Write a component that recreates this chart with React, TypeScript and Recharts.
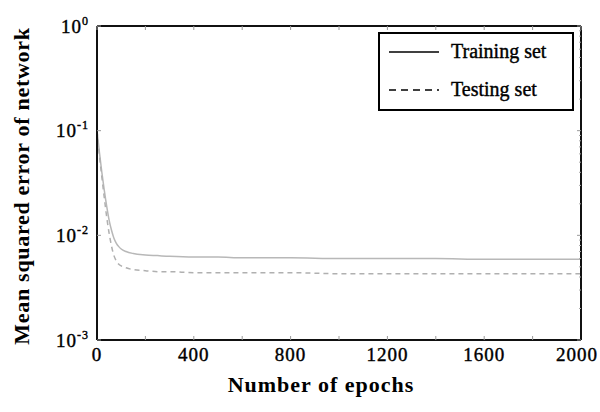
import React from 'react';
import { LineChart, Line, XAxis, YAxis, Legend } from 'recharts';

const epochs = [0, 10, 20, 30, 40, 50, 60, 70, 80, 90, 100, 120, 150, 200, 250, 300, 400, 500, 600, 800, 1000, 1200, 1400, 1600, 1800, 2000];
const training = [0.1, 0.062, 0.04, 0.027, 0.019, 0.014, 0.0112, 0.0094, 0.0084, 0.0078, 0.0074, 0.007, 0.0067, 0.0065, 0.0064, 0.0063, 0.0062, 0.0062, 0.0061, 0.0061, 0.006, 0.006, 0.006, 0.0059, 0.0059, 0.0059];
const testing = [0.1, 0.058, 0.036, 0.023, 0.015, 0.0105, 0.0079, 0.0064, 0.0057, 0.0053, 0.0051, 0.0049, 0.0047, 0.0046, 0.0045, 0.0045, 0.0044, 0.0044, 0.0044, 0.0044, 0.0043, 0.0043, 0.0043, 0.0043, 0.0043, 0.0043];

const xTicks = [0, 200, 400, 600, 800, 1000, 1200, 1400, 1600, 1800, 2000];
const xLabelTicks = [0, 400, 800, 1200, 1600, 2000];
const yTicks = [0.001, 0.01, 0.1, 1];
const yExponents = ['-3', '-2', '-1', '0'];
const yMinorTicks = [0.002, 0.003, 0.004, 0.005, 0.006, 0.007, 0.008, 0.009, 0.02, 0.03, 0.04, 0.05, 0.06, 0.07, 0.08, 0.09, 0.2, 0.3, 0.4, 0.5, 0.6, 0.7, 0.8, 0.9];
const yRightTicks = [...yTicks, ...yMinorTicks];

const seriesNames = ['Training set', 'Testing set'];

const data = epochs.map((e, i) => ({ epoch: e, training: training[i], testing: testing[i] }));

const FONT = '"Liberation Serif", "Times New Roman", serif';

const XTick = (props: any) => {
  const { x, y, payload } = props;
  if (!xLabelTicks.includes(payload.value)) return null;
  const last = payload.value === 2000;
  return (
    <text x={x} y={y} dx={last ? -4 : 0} dy="0.71em" textAnchor="middle" fontFamily={FONT} fontSize={19} letterSpacing={1} fill="#000" stroke="#000" strokeWidth={0.4}>
      {String(payload.value)}
    </text>
  );
};

const TopTick = (props: any) => {
  const { x, y } = props;
  return <line x1={x} y1={y} x2={x} y2={y + 4} stroke="#999" strokeWidth={1} />;
};

const YTick = (props: any) => {
  const { x, y, payload } = props;
  const idx = yTicks.indexOf(payload.value);
  return (
    <text x={x} y={y} dy="0.35em" textAnchor="end" fontFamily={FONT} fontSize={19} letterSpacing={1} fill="#000" stroke="#000" strokeWidth={0.4}>
      10
      <tspan dy={-8} fontSize={12}>{yExponents[idx]}</tspan>
    </text>
  );
};

const RightTick = (props: any) => {
  const { x, y, payload } = props;
  const major = yTicks.includes(payload.value);
  return <line x1={x} y1={y} x2={x - (major ? 4 : 2)} y2={y} stroke={major ? '#999' : '#aaa'} strokeWidth={1} />;
};

const LegendBox = () => (
  <svg width={196} height={79} style={{ display: 'block' }}>
    <rect x={1} y={1} width={194} height={77} fill="#fff" stroke="#000" strokeWidth={2} />
    <line x1={11} y1={20} x2={61} y2={20} stroke="#000" strokeWidth={1.5} />
    <text x={73} y={26} fontFamily={FONT} fontSize={20} fill="#000" stroke="#000" strokeWidth={0.4}>{seriesNames[0]}</text>
    <line x1={11} y1={58} x2={61} y2={58} stroke="#000" strokeWidth={1.5} strokeDasharray="7 5" />
    <text x={73} y={64} fontFamily={FONT} fontSize={20} fill="#000" stroke="#000" strokeWidth={0.4}>{seriesNames[1]}</text>
  </svg>
);

export default function App() {
  return (
    <div style={{ position: 'absolute', left: 0, top: 0, background: '#fff' }}>
      <LineChart width={600} height={412} data={data} margin={{ top: 25, right: 18, bottom: 0, left: 0 }}>
        <XAxis
          dataKey="epoch"
          type="number"
          domain={[0, 2000]}
          ticks={xTicks}
          height={72}
          axisLine={{ stroke: '#111', strokeWidth: 2 }}
          tickLine={{ stroke: '#999' }}
          tickSize={-4}
          tickMargin={12}
          tick={<XTick />}
          interval={0}
          allowDataOverflow
          label={{
            value: 'Number of epochs',
            content: () => (
              <text x={321} y={392} textAnchor="middle" fontFamily={FONT} fontSize={22} letterSpacing={1} fontWeight="bold" fill="#000">
                Number of epochs
              </text>
            ),
          }}
        />
        <XAxis
          xAxisId="top"
          orientation="top"
          dataKey="epoch"
          type="number"
          domain={[0, 2000]}
          ticks={xTicks}
          height={1}
          axisLine={{ stroke: '#111', strokeWidth: 2 }}
          tickLine={false}
          tickSize={0}
          tickMargin={0}
          tick={<TopTick />}
          interval={0}
          allowDataOverflow
        />
        <YAxis
          scale="log"
          domain={[0.001, 1]}
          ticks={yTicks}
          allowDataOverflow
          width={97}
          axisLine={{ stroke: '#111', strokeWidth: 2 }}
          tickLine={{ stroke: '#999' }}
          tickSize={-4}
          tickMargin={12}
          tick={<YTick />}
          interval={0}
          label={{
            value: 'Mean squared error of network',
            content: () => (
              <text x={29} y={186} transform="rotate(-90 29 186)" textAnchor="middle" fontFamily={FONT} fontSize={22} letterSpacing={0.7} fontWeight="bold" fill="#000">
                Mean squared error of network
              </text>
            ),
          }}
        />
        <YAxis
          yAxisId="right"
          orientation="right"
          scale="log"
          domain={[0.001, 1]}
          ticks={yRightTicks}
          allowDataOverflow
          width={1}
          axisLine={{ stroke: '#111', strokeWidth: 2 }}
          tickLine={false}
          tickSize={0}
          tickMargin={0}
          tick={<RightTick />}
          interval={0}
        />
        <Legend
          layout="vertical"
          align="center"
          verticalAlign="middle"
          content={() => <LegendBox />}
          wrapperStyle={{ position: 'absolute', left: 378, top: 32, width: 196, height: 79 }}
        />
        <Line
          dataKey="training"
          name={seriesNames[0]}
          type="monotone"
          stroke="#b8b8b8"
          strokeWidth={1.5}
          dot={false}
          isAnimationActive={false}
        />
        <Line
          dataKey="testing"
          name={seriesNames[1]}
          xAxisId="top"
          yAxisId="right"
          type="monotone"
          stroke="#b0b0b0"
          strokeWidth={1.5}
          strokeDasharray="5 4"
          dot={false}
          isAnimationActive={false}
        />
      </LineChart>
    </div>
  );
}
